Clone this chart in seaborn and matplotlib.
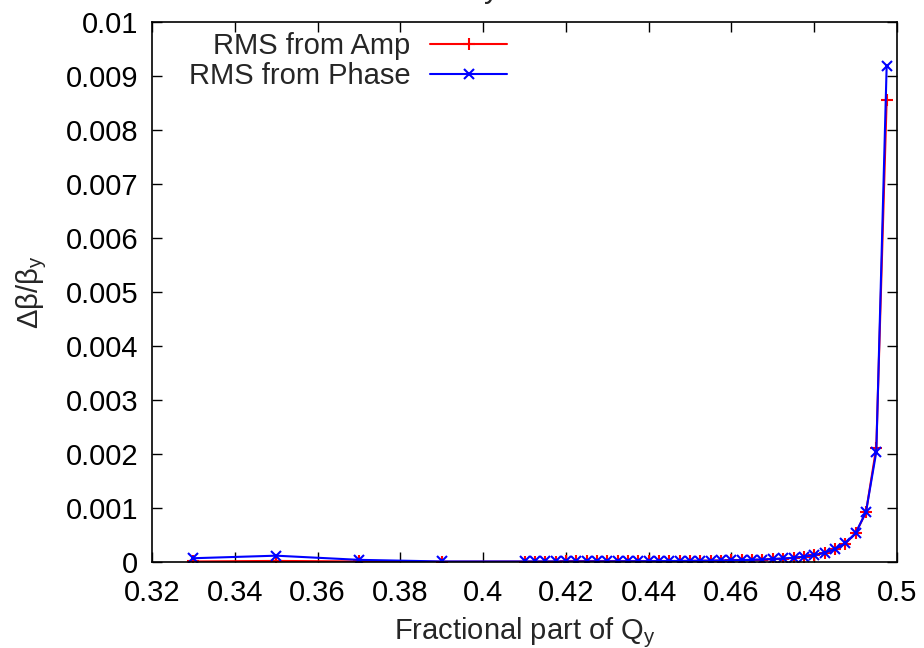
import matplotlib
matplotlib.use("Agg")
import matplotlib.pyplot as plt
import seaborn as sns
import pandas as pd
from matplotlib.ticker import FormatStrFormatter, MultipleLocator

q_frac = [0.33, 0.35, 0.37, 0.39,
          0.41, 0.4125, 0.415, 0.4175, 0.42, 0.4225, 0.425, 0.4275,
          0.43, 0.4325, 0.435, 0.4375, 0.44, 0.4425, 0.445, 0.4475,
          0.45, 0.4525, 0.455, 0.4575, 0.46, 0.4625, 0.465, 0.4675,
          0.47, 0.4725, 0.475, 0.4775, 0.48, 0.4825, 0.485, 0.4875,
          0.49, 0.4925, 0.495, 0.4975]

rms_amp = [0.000010, 0.000020, 0.000010, 0.000005,
           0.000008, 0.000008, 0.000009, 0.000009, 0.000010, 0.000010, 0.000011, 0.000011,
           0.000012, 0.000012, 0.000013, 0.000014, 0.000015, 0.000016, 0.000017, 0.000018,
           0.000020, 0.000022, 0.000024, 0.000027, 0.000030, 0.000034, 0.000039, 0.000045,
           0.000053, 0.000063, 0.000077, 0.000097, 0.000126, 0.000170, 0.000235, 0.000340,
           0.000530, 0.000920, 0.002120, 0.008550]

rms_phase = [0.000070, 0.000117, 0.000040, 0.000010,
             0.000010, 0.000010, 0.000010, 0.000011, 0.000011, 0.000012, 0.000012, 0.000013,
             0.000013, 0.000014, 0.000015, 0.000015, 0.000016, 0.000017, 0.000018, 0.000020,
             0.000021, 0.000023, 0.000025, 0.000028, 0.000031, 0.000035, 0.000040, 0.000046,
             0.000055, 0.000065, 0.000078, 0.000098, 0.000127, 0.000172, 0.000238, 0.000345,
             0.000535, 0.000925, 0.002040, 0.009180]

series_labels = ["RMS from Amp", "RMS from Phase"]

sns.set_style("ticks")
plt.rcParams["font.family"] = ["Liberation Sans", "DejaVu Sans"]
plt.rcParams["mathtext.fontset"] = "custom"
plt.rcParams["mathtext.rm"] = "Liberation Sans"
plt.rcParams["mathtext.it"] = "Liberation Sans"
plt.rcParams["mathtext.bf"] = "Liberation Sans:bold"

df_amp = pd.DataFrame({"q": q_frac, "v": rms_amp})
df_ph = pd.DataFrame({"q": q_frac, "v": rms_phase})

FS = 21

fig = plt.figure(figsize=(9.24, 6.48), dpi=100)
ax = fig.add_axes([152/924, 1-562/648, (897-152)/924, (562-22)/648])

sns.lineplot(data=df_amp, x="q", y="v", ax=ax, color="#ff0000", marker="+",
             markersize=8.5, markeredgewidth=1.5, markeredgecolor="#ff0000",
             linewidth=1.5, label=series_labels[0])
sns.lineplot(data=df_ph, x="q", y="v", ax=ax, color="#0000ff", marker="x",
             markersize=7, markeredgewidth=1.5, markeredgecolor="#0000ff",
             linewidth=1.5, label=series_labels[1])

ax.set_xlim(0.32, 0.5)
ax.set_ylim(0, 0.01)
ax.xaxis.set_major_locator(MultipleLocator(0.02))
ax.yaxis.set_major_locator(MultipleLocator(0.001))
ax.xaxis.set_major_formatter(FormatStrFormatter("%g"))
ax.yaxis.set_major_formatter(FormatStrFormatter("%g"))
ax.tick_params(direction="in", length=7, width=1, top=True, right=True,
               labelsize=FS, colors="black")
ax.tick_params(axis="y", pad=10)
ax.tick_params(axis="x", pad=12)
for s in ax.spines.values():
    s.set_visible(True)
    s.set_linewidth(1.2)
    s.set_color("black")

ax.set_xlabel(r"Fractional part of Q$_\mathrm{y}$", fontsize=FS, labelpad=6)
ax.set_ylabel(r"$\mathrm{\Delta\beta/\beta_y}$", fontsize=FS, labelpad=12)

leg = ax.legend(loc="upper right", bbox_to_anchor=((507-152)/745, 0.982), markerfirst=False,
                frameon=False, fontsize=FS, handlelength=2.64, handletextpad=0.68,
                labelspacing=0.07, borderaxespad=0.0, borderpad=0.0)

fig.text(492/924, 1.0 + 3/648, "y", fontsize=22, ha="center", va="baseline")

fig.savefig("out.png", dpi=100)
